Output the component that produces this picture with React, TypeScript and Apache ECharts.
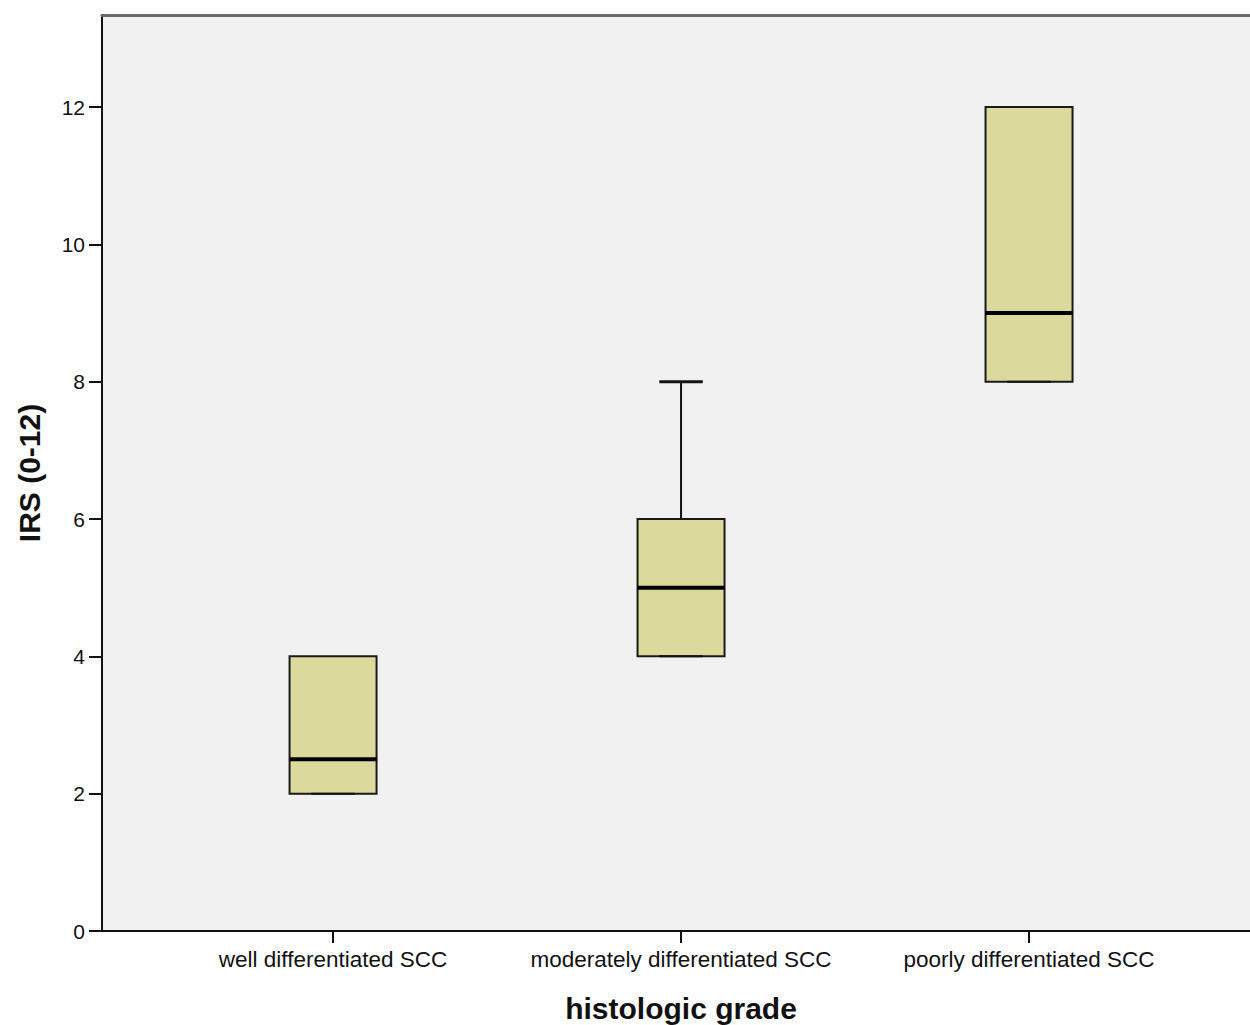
import React, { useEffect, useRef } from "react";
import * as echarts from "echarts";

const categories = [
  "well differentiated SCC",
  "moderately differentiated SCC",
  "poorly differentiated SCC",
];
const minValues = [2, 4, 8];
const q1Values = [2, 4, 8];
const medianValues = [2.5, 5, 9];
const q3Values = [4, 6, 12];
const maxValues = [4, 8, 12];
const yTicks = [0, 2, 4, 6, 8, 10, 12];

const FONT = "'Liberation Sans', Arial, sans-serif";

export default function App() {
  const ref = useRef<HTMLDivElement>(null);
  useEffect(() => {
    if (!ref.current) return;
    const chart = echarts.init(ref.current, null, { renderer: "svg" });
    const data = categories.map((_, i) => [
      i,
      minValues[i],
      q1Values[i],
      medianValues[i],
      q3Values[i],
      maxValues[i],
    ]);
    const xMin = -0.664;
    const xMax = 2.635;
    const option: any = {
      animation: false,
      backgroundColor: "#ffffff",
      grid: {
        left: 102,
        top: 15,
        right: 0,
        height: 916,
        show: true,
        backgroundColor: "#f1f1f1",
        borderWidth: 0,
      },
      xAxis: [
        {
          type: "value",
          min: xMin,
          max: xMax,
          position: "bottom",
          splitLine: { show: false },
          axisLine: { show: true, onZero: false, lineStyle: { color: "#111", width: 2 } },
          axisTick: {
            show: true,
            inside: false,
            length: 12,
            customValues: [0, 1, 2],
            lineStyle: { color: "#111", width: 2 },
          },
          axisLabel: {
            show: true,
            customValues: [0, 1, 2],
            margin: 17,
            fontSize: 22.5,
            fontFamily: FONT,
            color: "#111",
            formatter: (v: number) => categories[Math.round(v)] ?? "",
          },
        },
        {
          type: "value",
          min: xMin,
          max: xMax,
          position: "top",
          splitLine: { show: false },
          axisLine: { show: true, onZero: false, lineStyle: { color: "#6a6a6a", width: 3 } },
          axisTick: { show: false },
          axisLabel: { show: false },
        },
      ],
      yAxis: {
        type: "value",
        min: 0,
        max: 13.34,
        interval: 2,
        splitLine: { show: false },
        axisLine: { show: true, onZero: false, lineStyle: { color: "#111", width: 2 } },
        axisTick: {
          show: true,
          inside: false,
          length: 13,
          customValues: yTicks,
          lineStyle: { color: "#111", width: 2 },
        },
        axisLabel: {
          show: true,
          customValues: yTicks,
          margin: 17,
          fontSize: 21,
          fontFamily: FONT,
          color: "#111",
        },
      },
      graphic: [
        {
          type: "text",
          x: 29,
          y: 473,
          rotation: Math.PI / 2,
          style: {
            text: "IRS (0-12)",
            fontSize: 30,
            fontWeight: "bold",
            fontFamily: FONT,
            fill: "#111",
            textAlign: "center",
            textVerticalAlign: "middle",
          },
        },
        {
          type: "text",
          x: 681,
          y: 1008,
          style: {
            text: "histologic grade",
            fontSize: 30,
            fontWeight: "bold",
            fontFamily: FONT,
            fill: "#111",
            textAlign: "center",
            textVerticalAlign: "middle",
          },
        },
      ],
      series: [
        {
          type: "custom",
          xAxisIndex: 0,
          yAxisIndex: 0,
          data,
          encode: { x: 0, y: [1, 2, 3, 4, 5] },
          renderItem: (params: any, api: any) => {
            const x = api.value(0);
            const lo = api.value(1);
            const q1 = api.value(2);
            const med = api.value(3);
            const q3 = api.value(4);
            const hi = api.value(5);
            const halfBox = api.size([0.125, 0])[0];
            const halfCap = api.size([0.0625, 0])[0];
            const pLo = api.coord([x, lo]);
            const pQ1 = api.coord([x, q1]);
            const pMed = api.coord([x, med]);
            const pQ3 = api.coord([x, q3]);
            const pHi = api.coord([x, hi]);
            const cx = pQ1[0];
            const lineStyle = { stroke: "#111", lineWidth: 2 };
            const children: any[] = [];
            if (hi > q3) {
              children.push({
                type: "line",
                shape: { x1: cx, y1: pQ3[1], x2: cx, y2: pHi[1] },
                style: lineStyle,
              });
            }
            if (lo < q1) {
              children.push({
                type: "line",
                shape: { x1: cx, y1: pQ1[1], x2: cx, y2: pLo[1] },
                style: lineStyle,
              });
            }
            children.push({
              type: "rect",
              shape: {
                x: cx - halfBox,
                y: pQ3[1],
                width: halfBox * 2,
                height: pQ1[1] - pQ3[1],
              },
              style: { fill: "#dcd99c", stroke: "#1a1a1a", lineWidth: 2 },
            });
            if (hi > q3) {
              children.push({
                type: "line",
                shape: { x1: cx - halfCap, y1: pHi[1], x2: cx + halfCap, y2: pHi[1] },
                style: { stroke: "#111", lineWidth: 3 },
              });
            }
            children.push({
              type: "line",
              shape: { x1: cx - halfCap, y1: pLo[1], x2: cx + halfCap, y2: pLo[1] },
              style: { stroke: "#111", lineWidth: 2 },
            });
            children.push({
              type: "line",
              shape: { x1: cx - halfBox, y1: pMed[1], x2: cx + halfBox, y2: pMed[1] },
              style: { stroke: "#000", lineWidth: 4 },
            });
            return { type: "group", children };
          },
        },
      ],
    };
    chart.setOption(option);
    return () => chart.dispose();
  }, []);
  return (
    <div
      ref={ref}
      style={{ position: "fixed", left: 0, top: 0, width: 1250, height: 1025 }}
    />
  );
}
